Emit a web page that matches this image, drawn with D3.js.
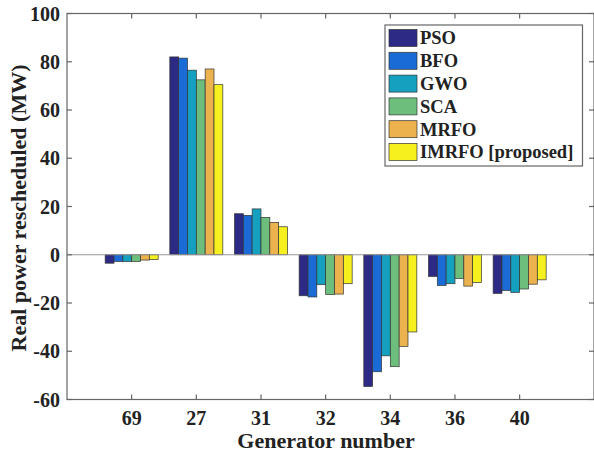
<!DOCTYPE html>
<html><head><meta charset="utf-8">
<script src="https://cdn.jsdelivr.net/npm/d3@7"></script>
<style>body{margin:0;background:#fff}svg{display:block}text{font-family:"Liberation Serif","Times New Roman",serif;font-weight:bold;fill:#222}</style>
</head><body><svg id="c" width="594" height="457"></svg>
<script>
const categories = ["69","27","31","32","34","36","40"];
const seriesNames = ["PSO","BFO","GWO","SCA","MRFO","IMRFO [proposed]"];
const PSO   = [-3.5, 82.0, 17.0, -17.0, -54.6,  -9.0, -16.0];
const BFO   = [-2.8, 81.5, 16.3, -17.5, -48.5, -12.7, -14.8];
const GWO   = [-2.8, 76.5, 19.0, -12.4, -41.9, -12.0, -15.6];
const SCA   = [-2.8, 72.5, 15.5, -16.5, -46.4,  -9.8, -14.2];
const MRFO  = [-2.2, 77.0, 13.4, -16.3, -38.0, -13.0, -12.2];
const IMRFO = [-2.0, 70.5, 11.6, -12.0, -32.0, -11.5, -10.4];
const yTicks = [-60,-40,-20,0,20,40,60,80,100];
const colors = ["#2d2a86","#1a6bd6","#14a0be","#6dbe7d","#ebb24e","#f6f01e"];
const series = [PSO,BFO,GWO,SCA,MRFO,IMRFO];

const svg = d3.select("#c");
const L = 67, R = 594, T = 13.5, B = 399.5;
const x = d3.scaleLinear().domain([0, 8.15]).range([L, R]);
const y = d3.scaleLinear().domain([-60, 100]).range([B, T]);
const groupW = 0.82, barW = groupW / series.length;

// bars
series.forEach((vals, s) => {
  svg.append("g").selectAll("rect").data(vals).join("rect")
    .attr("x", (d, i) => x(i + 1 - groupW / 2 + s * barW))
    .attr("width", x(barW) - x(0))
    .attr("y", d => y(Math.max(0, d)))
    .attr("height", d => Math.abs(y(d) - y(0)))
    .attr("fill", colors[s])
    .attr("stroke", "#333").attr("stroke-width", 0.7);
});

// zero line
svg.append("line").attr("x1", L).attr("x2", R).attr("y1", y(0)).attr("y2", y(0))
  .attr("stroke", "#999").attr("stroke-width", 1);

// axes (MATLAB box style, inward ticks)
const ax = svg.append("g").attr("stroke", "#666").attr("stroke-width", 1.2);
ax.append("rect").attr("x", L).attr("y", T).attr("width", R - L).attr("height", B - T).attr("fill", "none");
yTicks.forEach(t => {
  ax.append("line").attr("x1", L).attr("x2", L + 5).attr("y1", y(t)).attr("y2", y(t));
  ax.append("line").attr("x1", R - 5).attr("x2", R).attr("y1", y(t)).attr("y2", y(t));
});
categories.forEach((c, i) => {
  ax.append("line").attr("x1", x(i + 1)).attr("x2", x(i + 1)).attr("y1", B).attr("y2", B - 5);
  ax.append("line").attr("x1", x(i + 1)).attr("x2", x(i + 1)).attr("y1", T).attr("y2", T + 5);
});

// tick labels
svg.append("g").selectAll("text").data(yTicks).join("text")
  .attr("x", 60).attr("y", d => y(d)).attr("dy", "0.35em")
  .attr("text-anchor", "end").attr("font-size", 20).text(d => d);
svg.append("g").selectAll("text").data(categories).join("text")
  .attr("x", (d, i) => x(i + 1)).attr("y", 425)
  .attr("text-anchor", "middle").attr("font-size", 20).text(d => d);

// titles
svg.append("text").attr("x", 326).attr("y", 448).attr("text-anchor", "middle")
  .attr("font-size", 22).text("Generator number");
svg.append("text").attr("transform", "translate(26,208) rotate(-90)").attr("text-anchor", "middle")
  .attr("font-size", 22).text("Real power rescheduled (MW)");

// legend
const lg = svg.append("g");
lg.append("rect").attr("x", 385).attr("y", 25).attr("width", 197.5).attr("height", 141)
  .attr("fill", "#fff").attr("stroke", "#666").attr("stroke-width", 1.2);
seriesNames.forEach((n, i) => {
  const cy = 38 + i * 22.8;
  lg.append("rect").attr("x", 389).attr("y", cy - 8.5).attr("width", 28).attr("height", 17)
    .attr("fill", colors[i]).attr("stroke", "#333").attr("stroke-width", 0.7);
  lg.append("text").attr("x", 420).attr("y", cy).attr("dy", "0.35em").attr("font-size", 18.5).text(n);
});
</script></body></html>
